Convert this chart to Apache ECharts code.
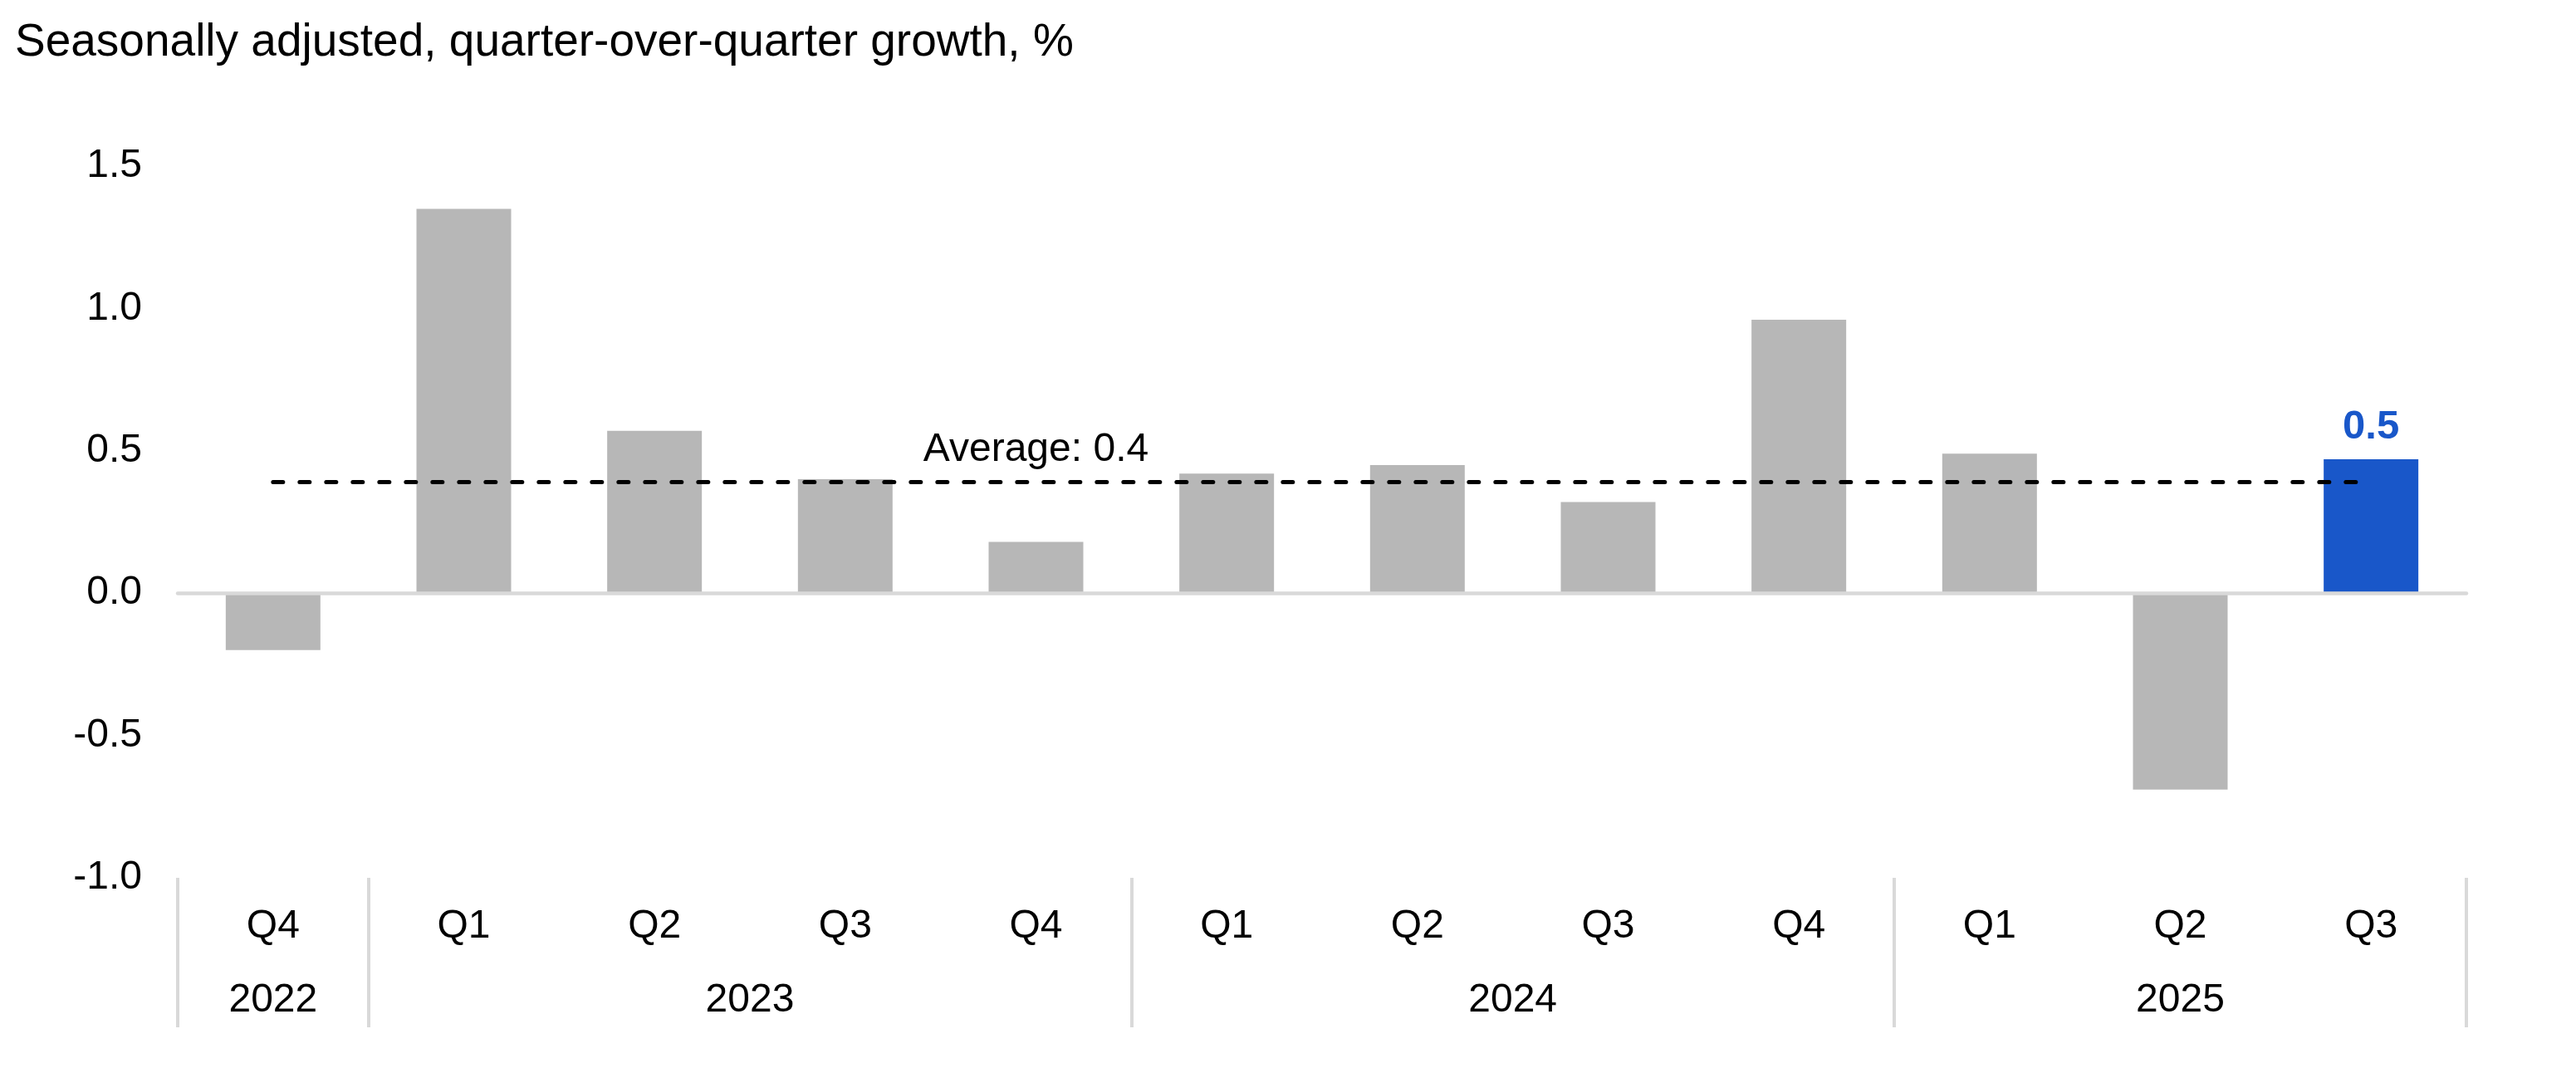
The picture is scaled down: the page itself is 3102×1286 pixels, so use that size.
<!DOCTYPE html>
<html>
<head>
<meta charset="utf-8">
<script src="https://cdn.jsdelivr.net/npm/echarts@6/dist/echarts.min.js"></script>
<style>
  html, body { margin: 0; padding: 0; background: #ffffff; }
  #chart { width: 3102px; height: 1286px; }
</style>
</head>
<body>
<div id="chart"></div>
<script>
// ---- Data ----
const categories = ['2022 Q4', '2023 Q1', '2023 Q2', '2023 Q3', '2023 Q4',
                    '2024 Q1', '2024 Q2', '2024 Q3', '2024 Q4',
                    '2025 Q1', '2025 Q2', '2025 Q3'];
const growthValues = [-0.20, 1.35, 0.57, 0.40, 0.18, 0.42, 0.45, 0.32, 0.96, 0.49, -0.69, 0.47];
const averageValue = 0.39;
const averageLabel = 'Average: 0.4';
const yTicks = [-1.0, -0.5, 0.0, 0.5, 1.0, 1.5];
const titleText = 'Seasonally adjusted, quarter-over-quarter growth, %';
const highlightIndex = 11;
const averageLabelCategory = '2023 Q4';

// ---- Styles ----
const FONT = "'Liberation Sans', Arial, Helvetica, sans-serif";
const GREY = '#b7b7b7';
const BLUE = '#1957c9';
const AXIS_GREY = '#d9d9d9';

// derived helpers
const yearOf = c => c.split(' ')[0];
const quarterOf = c => c.split(' ')[1];
const yearStart = categories.map((c, i) => i === 0 || yearOf(categories[i - 1]) !== yearOf(c));
const yearCenters = {};
(function () {
  let start = 0;
  for (let i = 1; i <= categories.length; i++) {
    if (i === categories.length || yearOf(categories[i]) !== yearOf(categories[start])) {
      yearCenters[Math.round((start + i) / 2 * 2)] = yearOf(categories[start]);
      start = i;
    }
  }
})();

const barData = growthValues.map((v, i) => {
  const item = { value: v, itemStyle: { color: i === highlightIndex ? BLUE : GREY } };
  if (i === highlightIndex) {
    item.label = {
      show: true, position: 'top', distance: 14,
      formatter: p => Number(p.value).toFixed(1),
      color: BLUE, fontSize: 49, fontWeight: 'bold', fontFamily: FONT
    };
  }
  return item;
});

const chart = echarts.init(document.getElementById('chart'), null, { renderer: 'canvas' });
chart.setOption({
  animation: false,
  backgroundColor: '#ffffff',
  title: {
    text: titleText, left: 18, top: 24, padding: 0,
    textStyle: { fontFamily: FONT, fontSize: 55, fontWeight: 'normal', color: '#000' }
  },
  grid: { left: 214, right: 132, top: 200, bottom: 229, containLabel: false },
  xAxis: [
    {
      type: 'category', data: categories, gridIndex: 0, position: 'bottom', z: 3,
      axisLine: { show: true, onZero: true, lineStyle: { color: AXIS_GREY, width: 4.5 } },
      axisTick: { show: false }, axisLabel: { show: false }, splitLine: { show: false }
    },
    {
      type: 'category', data: categories, gridIndex: 0, position: 'bottom', offset: 0,
      axisLine: { show: false, onZero: false },
      axisTick: {
        show: true, alignWithLabel: false, length: 180,
        interval: (i) => yearStart[i],
        lineStyle: { color: AXIS_GREY, width: 4 }
      },
      axisLabel: {
        show: true, interval: 0, margin: 35, formatter: v => quarterOf(v),
        fontFamily: FONT, fontSize: 48, color: '#000'
      },
      splitLine: { show: false }
    },
    {
      type: 'value', gridIndex: 0, position: 'bottom', offset: 0,
      min: 0, max: categories.length, interval: 0.5,
      axisLine: { show: false, onZero: false }, axisTick: { show: false }, splitLine: { show: false },
      axisLabel: {
        show: true, margin: 124, showMinLabel: true, showMaxLabel: true,
        formatter: v => yearCenters[Math.round(v * 2)] || '',
        fontFamily: FONT, fontSize: 48, color: '#000'
      }
    }
  ],
  yAxis: {
    type: 'value', min: yTicks[0], max: yTicks[yTicks.length - 1], interval: 0.5,
    axisLine: { show: false, onZero: false }, axisTick: { show: false }, splitLine: { show: false },
    axisLabel: {
      margin: 43, formatter: v => Number(v).toFixed(1),
      fontFamily: FONT, fontSize: 48, color: '#000'
    }
  },
  series: [
    {
      type: 'bar', xAxisIndex: 0, yAxisIndex: 0, data: barData, barWidth: 114,
      markLine: {
        silent: true, symbol: ['none', 'none'],
        lineStyle: { color: '#000', width: 5, type: [12, 20], cap: 'round' },
        label: { show: false },
        data: [[
          { coord: [categories[0], averageValue] },
          { coord: [categories[categories.length - 1], averageValue] }
        ]]
      },
      markPoint: {
        silent: true, symbol: 'circle', symbolSize: 0,
        data: [{ coord: [averageLabelCategory, averageValue], value: averageLabel }],
        label: {
          show: true, position: 'inside', offset: [0, -39],
          formatter: averageLabel,
          fontFamily: FONT, fontSize: 48, color: '#000'
        }
      }
    }
  ]
});
</script>
</body>
</html>
